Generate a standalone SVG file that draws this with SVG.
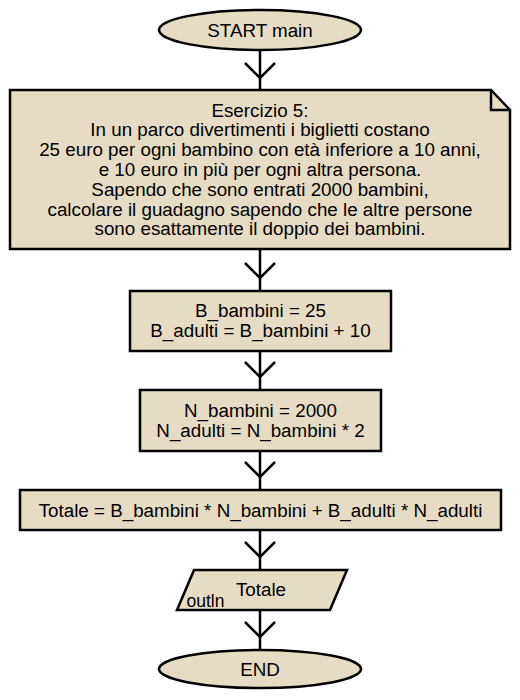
<svg xmlns="http://www.w3.org/2000/svg" width="520" height="700" viewBox="0 0 520 700">
<defs>
<style>
.shape{fill:#E6DCC3;stroke:#000;stroke-width:2.5;stroke-linejoin:miter}
.t{font-family:"Liberation Sans",Arial,sans-serif;font-size:18.8px;fill:#000;text-anchor:middle}
.s{font-family:"Liberation Sans",Arial,sans-serif;font-size:17.5px;fill:#000}
.c{fill:none;stroke:#000;stroke-width:2.5}
</style>
</defs>
<rect width="520" height="700" fill="#fff"/>
<g id="connectors">
<path class="c" d="M260,50 V90"/>
<path class="c" d="M245,63 L260,78 L275,63"/>
<path class="c" d="M260,249 V291"/>
<path class="c" d="M245,263 L260,278 L275,263"/>
<path class="c" d="M260,351 V390"/>
<path class="c" d="M245,362 L260,377 L275,362"/>
<path class="c" d="M260,451 V490"/>
<path class="c" d="M245,462 L260,477 L275,462"/>
<path class="c" d="M260,530 V570"/>
<path class="c" d="M245,542 L260,557 L275,542"/>
<path class="c" d="M260,610 V650"/>
<path class="c" d="M245,622 L260,637 L275,622"/>
</g>
<g id="start">
<ellipse class="shape" cx="260" cy="30" rx="101" ry="20"/>
<text class="t" x="260" y="36.5">START main</text>
</g>
<g id="note">
<path class="shape" d="M10,90 H491 L510,110 V249 H10 Z"/>
<path class="c" d="M491,90 V110 H510"/>
<text class="t" x="260" y="116.5">Esercizio 5:</text>
<text class="t" x="260" y="136.3">In un parco divertimenti i biglietti costano</text>
<text class="t" x="260" y="156.1">25 euro per ogni bambino con età inferiore a 10 anni,</text>
<text class="t" x="260" y="175.9">e 10 euro in più per ogni altra persona.</text>
<text class="t" x="260" y="195.7">Sapendo che sono entrati 2000 bambini,</text>
<text class="t" x="260" y="215.5">calcolare il guadagno sapendo che le altre persone</text>
<text class="t" x="260" y="235.3">sono esattamente il doppio dei bambini.</text>
</g>
<g id="assign1">
<rect class="shape" x="130" y="291" width="261" height="60"/>
<text class="t" x="260.5" y="316.5">B_bambini = 25</text>
<text class="t" x="260.5" y="336.5">B_adulti = B_bambini + 10</text>
</g>
<g id="assign2">
<rect class="shape" x="140" y="390" width="241" height="61"/>
<text class="t" x="260.5" y="416.5">N_bambini = 2000</text>
<text class="t" x="260.5" y="436.5">N_adulti = N_bambini * 2</text>
</g>
<g id="assign3">
<rect class="shape" x="20" y="490" width="481" height="40"/>
<text class="t" x="260.5" y="516.5">Totale = B_bambini * N_bambini + B_adulti * N_adulti</text>
</g>
<g id="output">
<polygon class="shape" points="194,570 347,570 330,610 177,610"/>
<text class="t" x="261" y="596">Totale</text>
<text class="s" x="186.5" y="606.5">outln</text>
</g>
<g id="end">
<ellipse class="shape" cx="260" cy="669" rx="101" ry="19"/>
<text class="t" x="260" y="676">END</text>
</g>
</svg>
